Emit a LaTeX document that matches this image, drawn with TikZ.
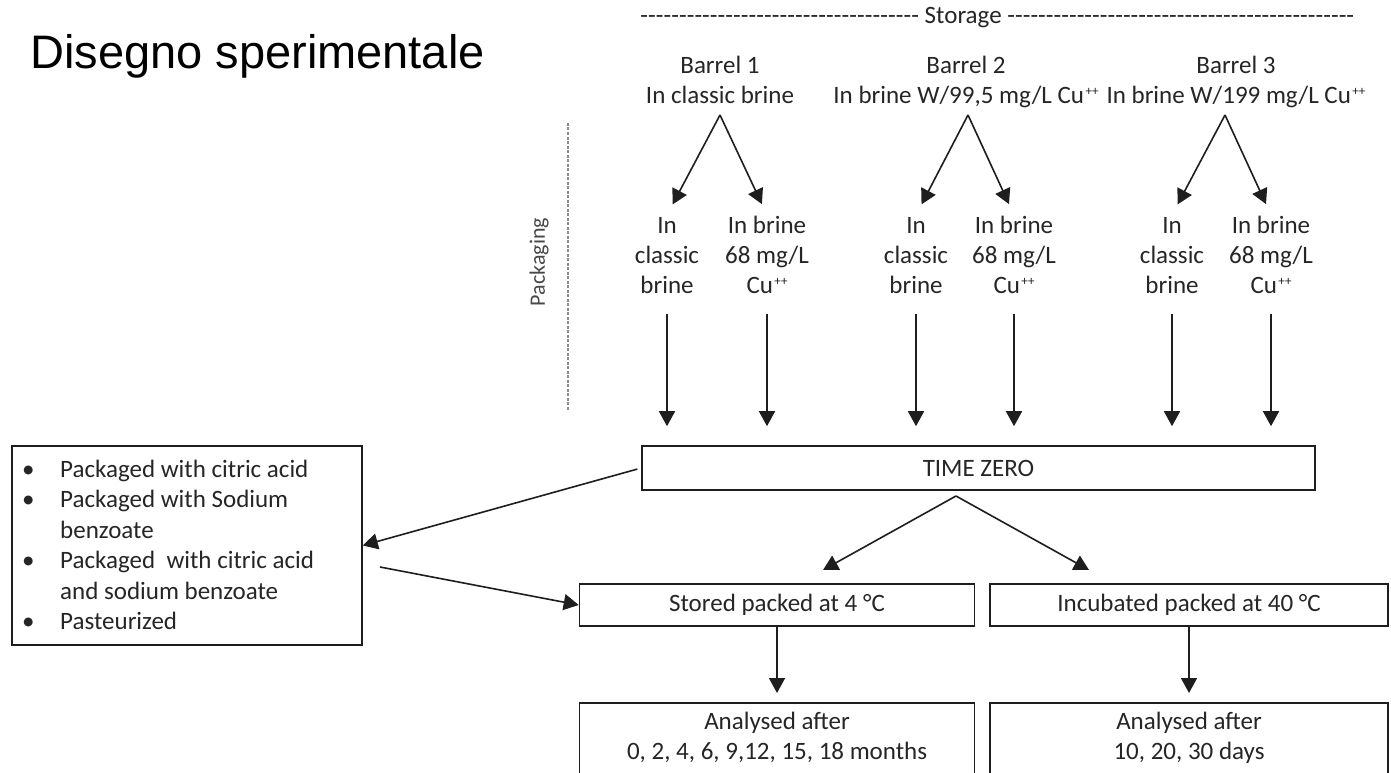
\documentclass[tikz,border=0pt]{standalone}
\usepackage{fontspec}
\setmainfont{Carlito}
\newfontfamily\titlefont{Liberation Sans}
\usetikzlibrary{arrows.meta}
\definecolor{ink}{HTML}{1E1E1E}
\definecolor{txtc}{HTML}{262626}
\definecolor{dashc}{HTML}{8C8C8C}
\newcommand{\tst}{\rule{0pt}{18pt}}
\newcommand{\hyfill}[1]{\makebox[#1]{\xleaders\hbox{-}\hfill}}
\newcommand{\cupp}{Cu\hspace{1.5pt}\raisebox{8pt}{\fontsize{13}{13}\selectfont ++}}
\begin{document}
\begin{tikzpicture}[x=1pt,y=-1pt,
  lbl/.style={font=\fontsize{25}{30}\selectfont, align=center, inner sep=0pt, anchor=north, text=txtc},
  boxn/.style={draw=ink, line width=1.6pt, inner sep=0pt, font=\fontsize{25}{30}\selectfont, text=txtc},
  arr/.style={draw=ink, line width=1.6pt, -{Triangle[width=16pt,length=15pt]}},
]
\useasboundingbox (0,0) rectangle (1391,773);
\clip (0,0) rectangle (1391,773);
\fill[white] (0,0) rectangle (1391,773);

% title and storage header
\node[anchor=base west, inner sep=0pt, font=\titlefont\fontsize{47}{56}\selectfont] (title) at (30,69) {Disegno sperimentale};
\node[anchor=base west, inner sep=0pt, font=\fontsize{25}{30}\selectfont, text=txtc] (storage) at (640,24) {\hyfill{279pt} Storage \hyfill{347pt}};

% barrels
\node[lbl] (b1) at (720,55) {\tst Barrel 1\\In classic brine};
\node[lbl] (b2) at (966,55) {\tst Barrel 2\\In brine W/99,5 mg/L \cupp};
\node[lbl] (b3) at (1236,55) {\tst Barrel 3\\In brine W/199 mg/L \cupp};
\coordinate (a1) at (720,115);
\coordinate (a2) at (968,115);
\coordinate (a3) at (1225,115);

% packaging
\node[lbl] (p1) at (667,215) {\tst In\\classic\\brine};
\node[lbl] (p2) at (767,215) {\tst In brine\\68 mg/L\\\cupp};
\node[lbl] (p3) at (916,215) {\tst In\\classic\\brine};
\node[lbl] (p4) at (1014,215) {\tst In brine\\68 mg/L\\\cupp};
\node[lbl] (p5) at (1172,215) {\tst In\\classic\\brine};
\node[lbl] (p6) at (1271,215) {\tst In brine\\68 mg/L\\\cupp};

\coordinate (pk1) at (568,123);
\coordinate (pk2) at (568,410);
\draw[dashc, line width=2pt, dash pattern=on 3pt off 1.5pt] (pk1) -- (pk2);
\node[rotate=90, inner sep=0pt, font=\fontsize{22}{26}\selectfont, text=txtc!85] (pack) at (539,262) {Packaging};

% time zero
\node[boxn, minimum width=673pt, minimum height=44pt] (tz) at (978.5,468) {TIME ZERO};

% list box
\node[boxn, minimum width=350pt, minimum height=199pt] (list) at (187,545.5) {};
\node[anchor=north west, inner sep=0pt, font=\fontsize{25}{30.4}\selectfont, text=txtc] (listtxt) at (22,456) {%
\begin{tabular}{@{}p{38pt}@{}l@{}}
\textbullet & Packaged with citric acid\\
\textbullet & Packaged with Sodium\\
 & benzoate\\
\textbullet & Packaged\ \ with citric acid\\
 & and sodium benzoate\\
\textbullet & Pasteurized
\end{tabular}};

% storage conditions
\node[boxn, minimum width=395pt, minimum height=42pt] (st) at (777,605) {Stored packed at 4 °C};
\node[boxn, minimum width=398pt, minimum height=42pt] (inc) at (1189,605) {Incubated packed at 40 °C};

% analysis boxes
\node[boxn, minimum width=395pt, minimum height=120pt, anchor=north] (an1) at (777,702) {};
\node[boxn, minimum width=398pt, minimum height=120pt, anchor=north] (an2) at (1189,702) {};
\node[lbl] (an1t) at (777,711) {\tst Analysed after\\0, 2, 4, 6, 9,12, 15, 18 months};
\node[lbl] (an2t) at (1189,711) {\tst Analysed after\\10, 20, 30 days};

% arrows barrels -> packaging
\draw[arr, shorten >=12pt] (a1) -- (p1.north);
\draw[arr, shorten >=12pt] (a1) -- (p2.north);
\draw[arr, shorten >=12pt] (a2) -- (p3.north);
\draw[arr, shorten >=12pt] (a2) -- (p4.north);
\draw[arr, shorten >=12pt] (a3) -- (p5.north);
\draw[arr, shorten >=12pt] (a3) -- (p6.north);

% packaging -> time zero
\foreach \p in {p1,p2,p3,p4,p5,p6}
  \draw[arr, shorten <=20pt, shorten >=19pt] (\p.south) -- (\p.south |- tz.north);

% time zero -> list, list -> stored
\draw[arr, shorten <=4pt] (tz.west) -- (list.east);
\coordinate (ls) at (380,567);
\draw[arr] (ls) -- (st.west);

% time zero -> conditions
\coordinate (tza) at (956,496);
\coordinate (tzl) at (823,570);
\coordinate (tzr) at (1089,570);
\draw[arr] (tza) -- (tzl);
\draw[arr] (tza) -- (tzr);

% conditions -> analysis
\draw[arr, shorten >=9pt] (st.south) -- (an1.north);
\draw[arr, shorten >=9pt] (inc.south) -- (an2.north);
\end{tikzpicture}
\end{document}
